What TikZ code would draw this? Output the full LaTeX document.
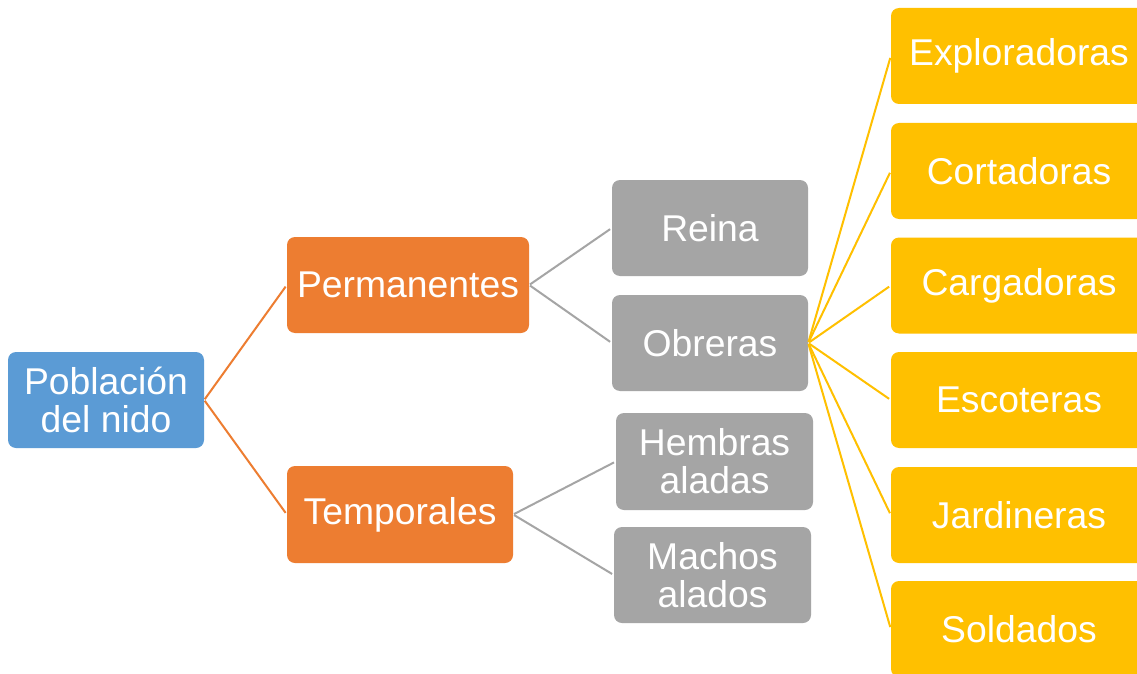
\documentclass[tikz,border=0pt]{standalone}
\usepackage{fontspec}
\setmainfont{Liberation Sans}
\definecolor{cblue}{HTML}{5B9BD5}
\definecolor{corange}{HTML}{ED7D31}
\definecolor{cgray}{HTML}{A5A5A5}
\definecolor{cyellow}{HTML}{FFC000}
\begin{document}
\begin{tikzpicture}[x=1pt,y=-1pt,
  box/.style={rounded corners=8pt, inner sep=0pt, align=center, text=white,
    font=\fontsize{37.3}{38}\selectfont, minimum height=96pt},
  bluebox/.style={box, fill=cblue, minimum width=196pt},
  orangebox/.style={box, fill=corange},
  graybox/.style={box, fill=cgray, minimum width=196pt},
  yellowbox/.style={box, fill=cyellow, minimum width=256pt},
  link/.style={line width=2pt, shorten >=2pt, shorten <=1pt}]
\useasboundingbox (0,0) rectangle (1137,674);
\clip (0,0) rectangle (1137,674);
\fill[white] (0,0) rectangle (1137,674);
\node[bluebox] (pob) at (106,400) {Población\\del nido};
\node[orangebox, minimum width=242pt] (perm) at (408,285) {Permanentes};
\node[orangebox, minimum width=226pt, minimum height=97pt] (temp) at (400,514.5) {Temporales};
\node[graybox] (reina) at (710,228) {Reina};
\node[graybox] (obr) at (710,343) {Obreras};
\node[graybox, minimum width=197pt, minimum height=97pt] (hemb) at (714.5,461.5) {Hembras\\aladas};
\node[graybox, minimum width=197pt] (mach) at (712.5,575) {Machos\\alados};
\node[yellowbox] (y1) at (1019,56) {Exploradoras};
\node[yellowbox] (y2) at (1019,171) {Cortadoras};
\node[yellowbox] (y3) at (1019,285.5) {Cargadoras};
\node[yellowbox] (y4) at (1019,400) {Escoteras};
\node[yellowbox] (y5) at (1019,515) {Jardineras};
\node[yellowbox] (y6) at (1019,629) {Soldados};
\draw[link, corange] (pob.east) -- (perm.west);
\draw[link, corange] (pob.east) -- (temp.west);
\draw[link, cgray] (perm.east) -- (reina.west);
\draw[link, cgray] (perm.east) -- (obr.west);
\draw[link, cgray] (temp.east) -- (hemb.west);
\draw[link, cgray] (temp.east) -- (mach.west);
\foreach \n in {y1,y2,y3,y4,y5,y6}
  \draw[link, cyellow] (obr.east) -- (\n.west);
\end{tikzpicture}
\end{document}
